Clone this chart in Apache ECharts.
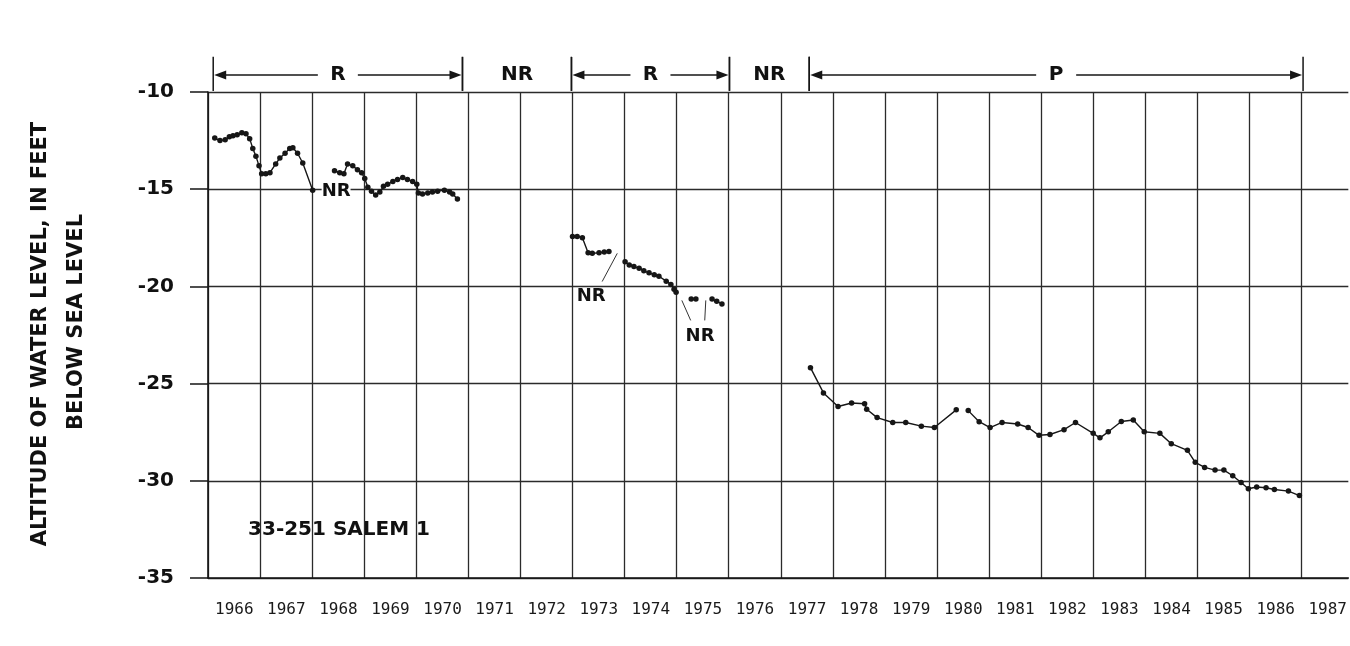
<!DOCTYPE html>
<html>
<head>
<meta charset="utf-8">
<script src="https://cdn.jsdelivr.net/npm/echarts@6/dist/echarts.min.js"></script>
<style>
html,body{margin:0;padding:0;background:#fff;}
#chart{width:1350px;height:646px;}
</style>
</head>
<body>
<div id="chart"></div>
<script>
// ---- Data ----
const yearLabels = ['1966','1967','1968','1969','1970','1971','1972','1973','1974','1975','1976',
  '1977','1978','1979','1980','1981','1982','1983','1984','1985','1986','1987'];

// Observation dates (decimal years) and water levels (feet, negative = below sea level).
// null level marks a break in the record (NR).
const obsYears = [
  1966.13,1966.23,1966.33,1966.41,1966.48,1966.56,1966.65,1966.73,1966.80,1966.86,1966.92,1966.98,
  1967.03,1967.11,1967.19,1967.30,1967.38,1967.48,1967.57,1967.63,1967.72,1967.82,1968.01,
  1968.20,
  1968.43,1968.53,1968.61,1968.68,1968.78,1968.87,1968.95,1969.01,1969.07,1969.14,1969.22,1969.30,
  1969.37,1969.45,1969.55,1969.64,1969.74,1969.83,1969.93,1970.01,1970.04,1970.12,1970.22,1970.31,
  1970.41,1970.54,1970.64,1970.70,1970.79,
  1972.00,
  1973.00,1973.09,1973.19,1973.30,1973.38,1973.51,1973.61,1973.70,
  1973.85,
  1974.01,1974.09,1974.18,1974.28,1974.37,1974.47,1974.57,1974.66,1974.80,1974.89,1974.95,1974.99,
  1975.13,
  1975.28,1975.37,
  1975.52,
  1975.68,1975.77,1975.87,
  1976.70,
  1977.57,1977.82,1978.10,1978.36,1978.61,1978.65,1978.85,1979.15,1979.40,1979.70,1979.95,1980.37,
  1980.48,
  1980.60,1980.81,1981.02,1981.25,1981.55,1981.75,1981.96,1982.17,1982.44,1982.66,1983.00,1983.13,
  1983.29,1983.54,1983.77,1983.98,1984.28,1984.50,1984.81,1984.96,1985.14,1985.34,1985.51,1985.68,
  1985.84,1985.98,1986.14,1986.32,1986.48,1986.75,1986.96
];
const obsLevels = [
  -12.37,-12.5,-12.45,-12.3,-12.25,-12.2,-12.1,-12.15,-12.4,-12.9,-13.3,-13.8,
  -14.2,-14.2,-14.15,-13.7,-13.4,-13.15,-12.9,-12.87,-13.15,-13.65,-15.05,
  null,
  -14.05,-14.15,-14.2,-13.7,-13.8,-14.0,-14.15,-14.45,-14.9,-15.1,-15.3,-15.15,
  -14.85,-14.75,-14.6,-14.5,-14.4,-14.5,-14.6,-14.75,-15.2,-15.25,-15.2,-15.15,
  -15.1,-15.05,-15.15,-15.25,-15.5,
  null,
  -17.43,-17.43,-17.5,-18.27,-18.3,-18.27,-18.23,-18.2,
  null,
  -18.73,-18.9,-18.98,-19.07,-19.2,-19.3,-19.4,-19.48,-19.73,-19.9,-20.15,-20.3,
  null,
  -20.65,-20.65,
  null,
  -20.65,-20.77,-20.9,
  null,
  -24.18,-25.48,-26.18,-26.0,-26.04,-26.32,-26.75,-27.0,-27.0,-27.19,-27.26,-26.35,
  null,
  -26.39,-26.96,-27.26,-27.0,-27.08,-27.26,-27.66,-27.62,-27.37,-27.0,-27.56,-27.79,
  -27.48,-26.95,-26.87,-27.48,-27.56,-28.09,-28.43,-29.05,-29.31,-29.45,-29.45,-29.74,
  -30.09,-30.41,-30.32,-30.36,-30.45,-30.53,-30.76
];

// Record-type periods shown above the plot (R = recorder, NR = no record, P = periodic)
const periodLabels = ['R','NR','R','NR','P'];
const periodStart  = [1966.10, 1970.88, 1972.97, 1976.00, 1977.53];
const periodEnd    = [1970.88, 1972.97, 1976.00, 1977.53, 1987.00];
const periodArrows = [true, false, true, false, true];

// "NR" notes inside the plot (data coordinates)
const noteTexts  = ['NR','NR','NR'];
const noteYears  = [1968.46, 1973.36, 1975.45];
const noteLevels = [-15.1, -20.5, -22.55];

// leader lines from notes to gaps
const leaderFromYears  = [1973.57, 1975.10, 1975.56];
const leaderFromLevels = [-19.75, -20.72, -20.72];
const leaderToYears    = [1973.86, 1975.27, 1975.54];
const leaderToLevels   = [-18.3, -21.75, -21.75];

const yTitle1 = 'ALTITUDE OF WATER LEVEL, IN FEET';
const yTitle2 = 'BELOW SEA LEVEL';
const stationLabel = '33-251 SALEM 1';

// ---- Build chart ----
const INK = '#161616';
const GRID = '#2b2b2b';
const X_MAX = 1987.9; // the plot is cut by the page edge just before 1988

const obsData = obsYears.map((x, i) => obsLevels[i] === null ? [x, '-'] : [x, obsLevels[i]]);

const chart = echarts.init(document.getElementById('chart'), null, {renderer: 'canvas'});

const option = {
  backgroundColor: '#ffffff',
  animation: false,
  grid: [
    {left: 208, right: 0, top: 92, bottom: 68},
    {left: 208, right: 0, top: 55, height: 37}
  ],
  xAxis: [
    {
      type: 'value', gridIndex: 0, min: 1966, max: X_MAX, interval: 1,
      axisLine: {show: true, onZero: false, lineStyle: {color: INK, width: 1.6}},
      axisTick: {show: false},
      axisLabel: {
        show: true, showMinLabel: true, showMaxLabel: false,
        fontFamily: 'DejaVu Sans Mono', fontSize: 16, color: '#1a1a1a', margin: 24,
        align: 'left', padding: [0, 0, 0, 7],
        formatter: function (v) { const i = Math.round(v - 1966); return Math.abs(v - Math.round(v)) < 1e-6 ? (yearLabels[i] || '') : ''; }
      },
      splitLine: {show: true, showMaxLine: false, lineStyle: {color: GRID, width: 1.3}}
    },
    {type: 'value', gridIndex: 1, min: 1966, max: X_MAX, show: false}
  ],
  yAxis: [
    {
      type: 'value', gridIndex: 0, min: -35, max: -10, interval: 5,
      axisLine: {show: true, lineStyle: {color: INK, width: 1.6}},
      axisTick: {show: true, inside: false, length: 18, lineStyle: {color: INK, width: 1.5}},
      axisLabel: {fontFamily: 'DejaVu Sans', fontWeight: 'bold', fontSize: 20, color: '#111', margin: 34},
      splitLine: {show: true, lineStyle: {color: GRID, width: 1.3}}
    },
    {type: 'value', gridIndex: 1, min: 0, max: 1, show: false}
  ],
  graphic: [
    {type: 'text', x: 41, y: 334, rotation: Math.PI / 2,
     style: {text: yTitle1, font: 'bold 21px "DejaVu Sans"', fill: '#111', align: 'center', verticalAlign: 'middle'}},
    {type: 'text', x: 77, y: 322, rotation: Math.PI / 2,
     style: {text: yTitle2, font: 'bold 21px "DejaVu Sans"', fill: '#111', align: 'center', verticalAlign: 'middle'}},
    {type: 'text', x: 339, y: 530,
     style: {text: stationLabel, font: 'bold 20px "DejaVu Sans"', fill: '#111', align: 'center', verticalAlign: 'middle'}}
  ],
  series: [
    {
      type: 'line', xAxisIndex: 0, yAxisIndex: 0, data: obsData,
      symbol: 'circle', symbolSize: 5.5, showSymbol: true, connectNulls: false,
      lineStyle: {color: INK, width: 1.4}, itemStyle: {color: INK}, z: 5
    },
    {
      type: 'custom', xAxisIndex: 1, yAxisIndex: 1,
      data: periodStart.map((s, i) => [s, periodEnd[i], periodArrows[i] ? 1 : 0]),
      renderItem: function (params, api) {
        const s = api.value(0), e = api.value(1), arrows = api.value(2);
        const label = periodLabels[params.dataIndex];
        const midY = api.coord([s, 0.46])[1];
        const top = api.coord([s, 0.95])[1];
        const bot = api.coord([s, 0.03])[1];
        const xs = api.coord([s, 0])[0];
        const xe = api.coord([e, 0])[0];
        const xm = (xs + xe) / 2;
        const st = {stroke: INK, lineWidth: 1.5};
        const children = [
          {type: 'line', shape: {x1: xs, y1: top, x2: xs, y2: bot}, style: st},
          {type: 'line', shape: {x1: xe, y1: top, x2: xe, y2: bot}, style: st},
          {type: 'text', x: xm, y: midY, style: {text: label, font: 'bold 20px "DejaVu Sans"', fill: '#111', align: 'center', verticalAlign: 'middle'}}
        ];
        if (arrows) {
          const gap = 20, ah = 12, aw = 4.5;
          children.push(
            {type: 'line', shape: {x1: xs + ah, y1: midY, x2: xm - gap, y2: midY}, style: st},
            {type: 'line', shape: {x1: xm + gap, y1: midY, x2: xe - ah, y2: midY}, style: st},
            {type: 'polygon', shape: {points: [[xs + 1, midY], [xs + ah + 1, midY - aw], [xs + ah + 1, midY + aw]]}, style: {fill: INK}},
            {type: 'polygon', shape: {points: [[xe - 1, midY], [xe - ah - 1, midY - aw], [xe - ah - 1, midY + aw]]}, style: {fill: INK}}
          );
        }
        return {type: 'group', children: children};
      },
      z: 6
    },
    {
      type: 'custom', xAxisIndex: 0, yAxisIndex: 0,
      data: noteYears.map((x, i) => [x, noteLevels[i]]),
      renderItem: function (params, api) {
        const p = api.coord([api.value(0), api.value(1)]);
        return {type: 'text', x: p[0], y: p[1],
          style: {text: noteTexts[params.dataIndex], font: 'bold 18px "DejaVu Sans"', fill: '#111', align: 'center', verticalAlign: 'middle',
                  backgroundColor: params.dataIndex === 0 ? '#fff' : null}};
      },
      z: 7
    },
    {
      type: 'custom', xAxisIndex: 0, yAxisIndex: 0,
      data: leaderFromYears.map((x, i) => [x, leaderFromLevels[i], leaderToYears[i], leaderToLevels[i]]),
      renderItem: function (params, api) {
        const a = api.coord([api.value(0), api.value(1)]);
        const b = api.coord([api.value(2), api.value(3)]);
        return {type: 'line', shape: {x1: a[0], y1: a[1], x2: b[0], y2: b[1]}, style: {stroke: '#333', lineWidth: 1}};
      },
      z: 7
    }
  ]
};
chart.setOption(option);
</script>
</body>
</html>
